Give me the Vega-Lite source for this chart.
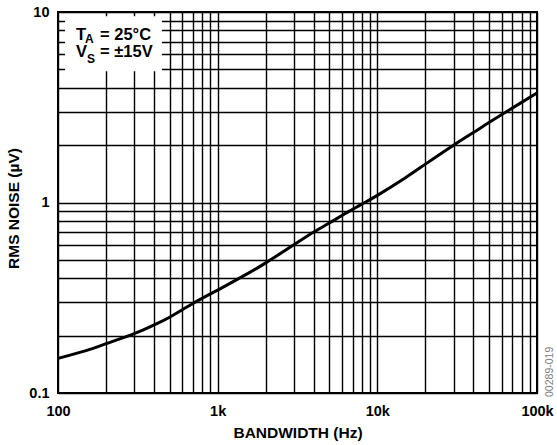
{
  "$schema": "https://vega.github.io/schema/vega-lite/v6.json",
  "width": 479,
  "height": 381,
  "autosize": {"type": "none"},
  "padding": {"left": 58, "top": 12, "right": 20, "bottom": 52},
  "background": "white",
  "config": {
    "view": {"stroke": "#000", "strokeWidth": 2},
    "font": "Liberation Sans"
  },
  "encoding": {
    "x": {
      "field": "f",
      "type": "quantitative",
      "scale": {"type": "log", "domain": [100, 100000], "nice": false},
      "axis": {
        "values": [100, 200, 300, 400, 500, 600, 700, 800, 900, 1000, 2000, 3000, 4000, 5000, 6000, 7000, 8000, 9000, 10000, 20000, 30000, 40000, 50000, 60000, 70000, 80000, 90000, 100000],
        "labelExpr": "datum.value == 100 ? '100' : datum.value == 1000 ? '1k' : datum.value == 10000 ? '10k' : datum.value == 100000 ? '100k' : ''",
        "grid": true,
        "gridColor": "#000",
        "gridWidth": 1.4,
        "gridOpacity": 1,
        "ticks": false,
        "domain": false,
        "labelFont": "Liberation Sans",
        "labelFontWeight": "bold",
        "labelFontSize": 14.5,
        "labelColor": "#000",
        "labelPadding": 11,
        "labelFlush": false,
        "labelOverlap": false,
        "labelBound": false,
        "title": "BANDWIDTH (Hz)",
        "titleFont": "Liberation Sans",
        "titleFontSize": 15.5,
        "titleFontWeight": "bold",
        "titleColor": "#000",
        "titleY": 44,
        "titleBaseline": "alphabetic"
      }
    },
    "y": {
      "field": "v",
      "type": "quantitative",
      "scale": {"type": "log", "domain": [0.1, 10], "nice": false},
      "axis": {
        "values": [0.1, 0.2, 0.3, 0.4, 0.5, 0.6, 0.7, 0.8, 0.9, 1, 2, 3, 4, 5, 6, 7, 8, 9, 10],
        "labelExpr": "datum.value == 0.1 ? '0.1' : datum.value == 1 ? '1' : datum.value == 10 ? '10' : ''",
        "grid": true,
        "gridColor": "#000",
        "gridWidth": 1.4,
        "gridOpacity": 1,
        "ticks": false,
        "domain": false,
        "labelFont": "Liberation Sans",
        "labelFontWeight": "bold",
        "labelFontSize": 14.5,
        "labelColor": "#000",
        "labelPadding": 9,
        "labelFlush": false,
        "labelOverlap": false,
        "labelBound": false,
        "title": "RMS NOISE (µV)",
        "titleFont": "Liberation Sans",
        "titleFontSize": 15.5,
        "titleFontWeight": "bold",
        "titleColor": "#000",
        "titleX": -40,
        "titleY": 196,
        "titleBaseline": "alphabetic"
      }
    }
  },
  "layer": [
    {
      "data": {"values": [{"f": 110.6, "f2": 448, "v": 4.88, "v2": 9.5}]},
      "mark": {"type": "rect", "color": "white", "opacity": 1},
      "encoding": {
        "x2": {"field": "f2"},
        "y2": {"field": "v2"}
      }
    },
    {
      "data": {"values": [
        {"f": 100, "v": 0.152},
        {"f": 150, "v": 0.167},
        {"f": 200, "v": 0.1815},
        {"f": 300, "v": 0.205},
        {"f": 400, "v": 0.228},
        {"f": 500, "v": 0.25},
        {"f": 700, "v": 0.295},
        {"f": 1000, "v": 0.347},
        {"f": 1500, "v": 0.418},
        {"f": 2000, "v": 0.482},
        {"f": 3000, "v": 0.6},
        {"f": 4000, "v": 0.7},
        {"f": 5000, "v": 0.78},
        {"f": 6000, "v": 0.855},
        {"f": 7000, "v": 0.92},
        {"f": 8000, "v": 0.98},
        {"f": 10000, "v": 1.09},
        {"f": 15000, "v": 1.35},
        {"f": 20000, "v": 1.59},
        {"f": 30000, "v": 2.0},
        {"f": 40000, "v": 2.33},
        {"f": 50000, "v": 2.63},
        {"f": 70000, "v": 3.13},
        {"f": 100000, "v": 3.76}
      ]},
      "mark": {"type": "line", "color": "#000", "strokeWidth": 3, "interpolate": "natural"}
    },
    {
      "data": {"values": [
        {"f": 129.6, "v": 7.154, "t": "T"},
        {"f": 183.3, "v": 7.154, "t": "= 25°C"},
        {"f": 129.6, "v": 5.77, "t": "V"},
        {"f": 183.3, "v": 5.77, "t": "= ±15V"}
      ]},
      "mark": {"type": "text", "align": "left", "baseline": "alphabetic", "font": "Liberation Sans", "fontSize": 16.5, "fontWeight": "bold", "color": "#000"},
      "encoding": {"text": {"field": "t"}}
    },
    {
      "data": {"values": [
        {"f": 147.6, "v": 6.9, "t": "A"},
        {"f": 151.9, "v": 5.43, "t": "S"}
      ]},
      "mark": {"type": "text", "align": "left", "baseline": "alphabetic", "font": "Liberation Sans", "fontSize": 12, "fontWeight": "bold", "color": "#000"},
      "encoding": {"text": {"field": "t"}}
    },
    {
      "data": {"values": [{"f": 125900, "v": 0.0953, "t": "00289-019"}]},
      "mark": {"type": "text", "align": "left", "baseline": "alphabetic", "angle": 270, "font": "Liberation Sans", "fontSize": 10.5, "color": "#808080"},
      "encoding": {"text": {"field": "t"}}
    }
  ]
}
